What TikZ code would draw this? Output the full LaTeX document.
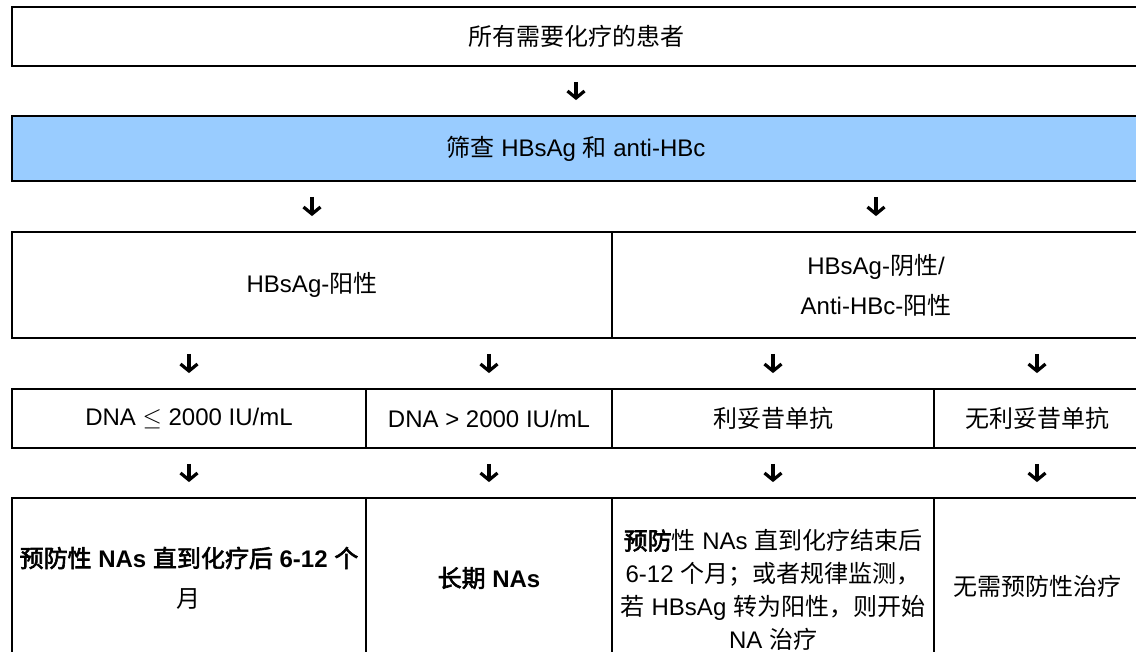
\documentclass[tikz,border=0pt]{standalone}
\usepackage{fontspec}
\setmainfont{Liberation Sans}
\newfontfamily\cjk[AutoFakeBold=2.5]{Noto Sans CJK SC}
\newcommand{\ZH}[1]{{\cjk #1}}
\newcommand{\fsz}{\fontsize{24}{40}\selectfont}
\usetikzlibrary{arrows.meta}
\definecolor{hbblue}{RGB}{153,204,255}
\begin{document}
\begin{tikzpicture}[x=1pt,y=-1pt,
  cell/.style={draw=black, line width=1.8pt, inner sep=0pt, align=center, font=\fsz},
  arr/.style={line width=3.2pt, -{Straight Barb[length=7pt,width=17pt]}, shorten <=15pt, shorten >=15pt}]
\clip (0,0) rectangle (1136,652);
\fill[white] (0,0) rectangle (1136,652);
% row 1
\node[cell, minimum width=1128pt, minimum height=59pt] (top) at (576,36.5) {\ZH{所有需要化疗的患者}};
% row 2
\node[cell, fill=hbblue, minimum width=1128pt, minimum height=65pt] (screen) at (576,148.5) {\ZH{筛查} HBsAg \ZH{和} anti-HBc};
% row 3
\node[cell, minimum width=600pt, minimum height=106pt] (pos) at (312,285) {HBsAg-\ZH{阳性}};
\node[cell, minimum width=528pt, minimum height=106pt] (neg) at (876,285) {HBsAg-\ZH{阴性}/\\Anti-HBc-\ZH{阳性}};
% row 4
\node[cell, minimum width=354pt, minimum height=59pt] (low) at (189,418.5) {DNA $\leq$ 2000 IU/mL};
\node[cell, minimum width=246pt, minimum height=59pt] (high) at (489,418.5) {DNA > 2000 IU/mL};
\node[cell, minimum width=322pt, minimum height=59pt] (rit) at (773,418.5) {\ZH{利妥昔单抗}};
\node[cell, minimum width=206pt, minimum height=59pt] (norit) at (1037,418.5) {\ZH{无利妥昔单抗}};
% row 5
\node[cell, minimum width=354pt, minimum height=160pt] (t1) at (189,578) {\bfseries\ZH{预防性} NAs \ZH{直到化疗后} 6-12 \ZH{个}\\\ZH{月}};
\node[cell, minimum width=246pt, minimum height=160pt] (t2) at (489,578) {\bfseries\ZH{长期} NAs};
\node[cell, minimum width=322pt, minimum height=184pt, font=\fontsize{24}{33}\selectfont] (t3) at (773,590) {\textbf{\ZH{预防}}\ZH{性} NAs \ZH{直到化疗结束后}\\6-12 \ZH{个月；或者规律监测，}\\\ZH{若} HBsAg \ZH{转为阳性，则开始}\\NA \ZH{治疗}};
\node[cell, minimum width=206pt, minimum height=176pt] (t4) at (1037,586) {\ZH{无需预防性治疗}};
% arrows
\draw[arr] (top.south) -- (top.south |- screen.north);
\draw[arr] (pos.north |- screen.south) -- (pos.north);
\draw[arr] (neg.north |- screen.south) -- (neg.north);
\draw[arr] (low.north |- pos.south) -- (low.north);
\draw[arr] (high.north |- pos.south) -- (high.north);
\draw[arr] (rit.north |- neg.south) -- (rit.north);
\draw[arr] (norit.north |- neg.south) -- (norit.north);
\draw[arr] (low.south) -- (t1.north);
\draw[arr] (high.south) -- (t2.north);
\draw[arr] (rit.south) -- (t3.north);
\draw[arr] (norit.south) -- (t4.north);
\end{tikzpicture}
\end{document}
